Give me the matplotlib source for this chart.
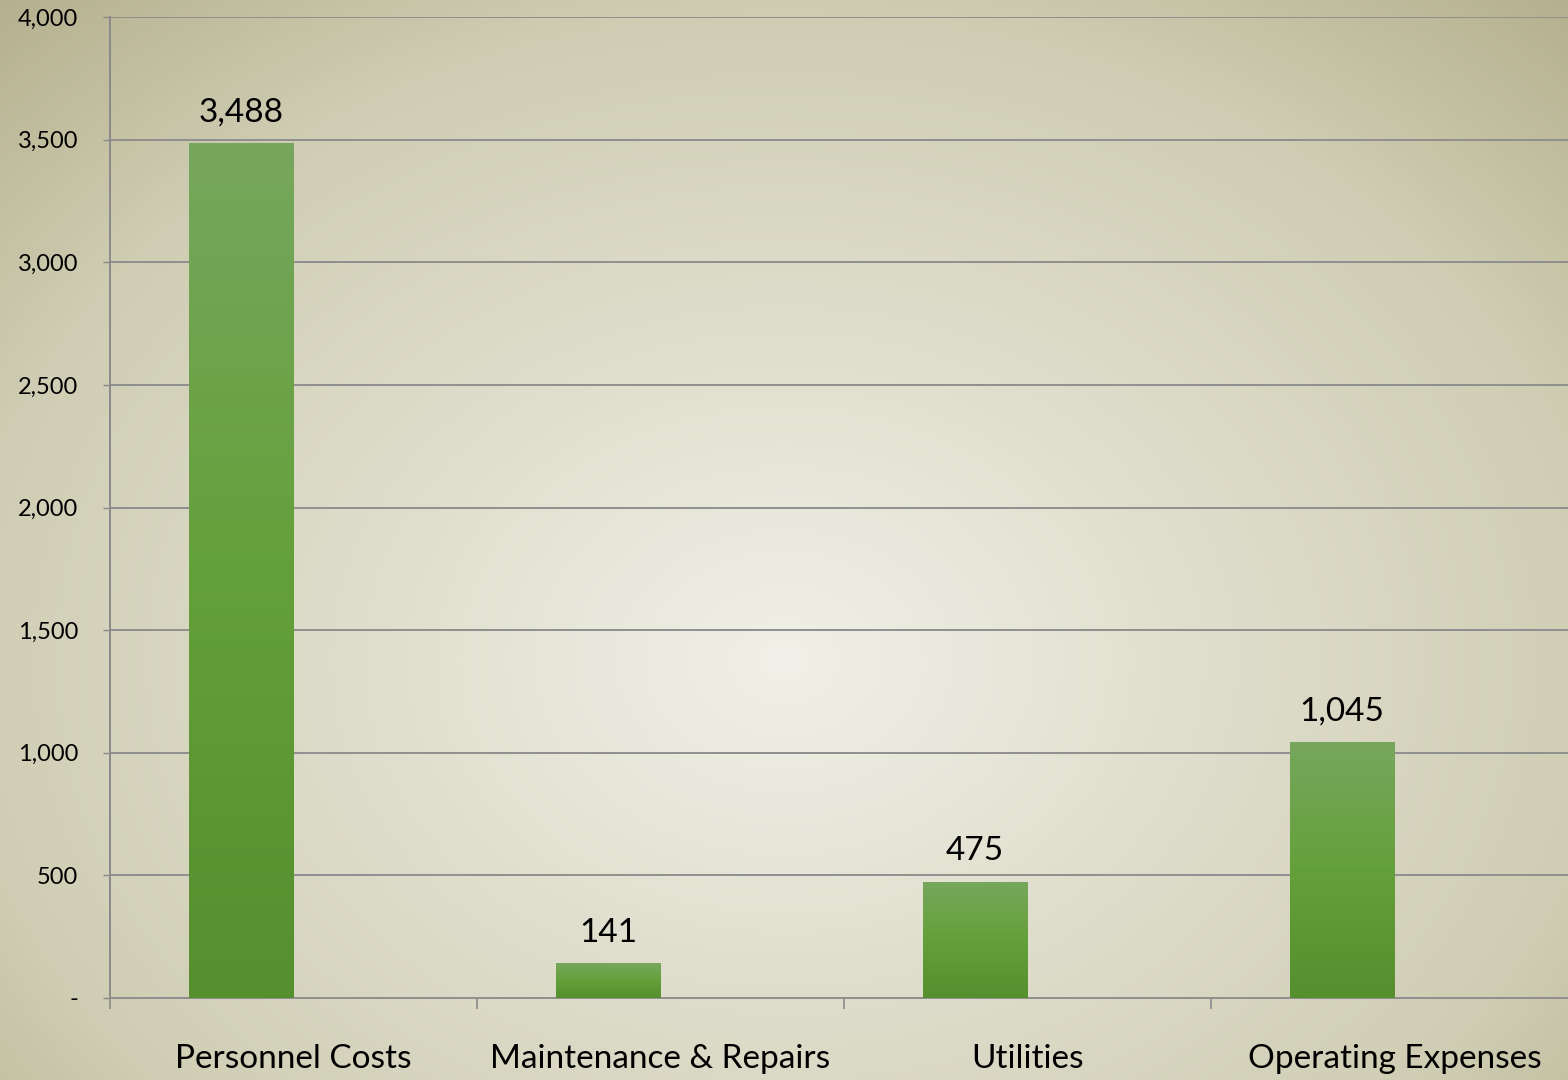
import numpy as np
import matplotlib
matplotlib.use("Agg")
import matplotlib.pyplot as plt
from matplotlib.colors import LinearSegmentedColormap
from matplotlib.ticker import FuncFormatter, FixedLocator

categories = ["Personnel Costs", "Maintenance & Repairs", "Utilities", "Operating Expenses"]
values = [3488, 141, 475, 1045]
yticks = [0, 500, 1000, 1500, 2000, 2500, 3000, 3500, 4000]

plt.rcParams['font.family'] = ['Lato', 'DejaVu Sans']

W, H = 1568, 1080
fig = plt.figure(figsize=(W / 100, H / 100), dpi=100)

# background radial gradient
bg = fig.add_axes([0, 0, 1, 1], zorder=-10)
yy, xx = np.mgrid[0:H, 0:W]
cx, cy = 784, 660
r = np.sqrt(((xx - cx) / (W * 0.75)) ** 2 + ((yy - cy) / (H * 0.85)) ** 2)
r = np.clip(r, 0, 1)
bg_cmap = LinearSegmentedColormap.from_list(
    "bg", [(0.0, "#f0f0e8"), (0.7, "#cfcdb3"), (1.0, "#b3af8c")])
bg.imshow(r, cmap=bg_cmap, aspect="auto", extent=(0, W, H, 0), vmin=0, vmax=1)
bg.axis("off")

left = 110 / W
bottom = 1 - 998 / H
top = 1 - 17 / H
ax = fig.add_axes([left, bottom, 1468 / W, top - bottom])
ax.patch.set_alpha(0)

x = np.arange(len(categories))
bw = 0.2857
bars = ax.bar(x - bw / 2, values, width=bw, color="#62993a", zorder=2)

bar_cmap = LinearSegmentedColormap.from_list("bar", ["#568f2e", "#64a03a", "#77a75d"])
grad = np.linspace(0, 1, 256).reshape(-1, 1)
for b in bars:
    x0 = b.get_x()
    h = b.get_height()
    im = ax.imshow(grad, cmap=bar_cmap, aspect="auto", origin="lower",
                   extent=(x0, x0 + b.get_width(), 0, h), zorder=3)
    im.set_clip_path(b)
    ax.annotate(f"{h:,.0f}", (x0 + b.get_width() / 2, h), xytext=(0, 11),
                textcoords="offset points", ha="center", va="bottom",
                fontsize=24, color="black", zorder=4)

ax.set_xlim(-0.5, len(categories) - 0.5)
ax.set_ylim(0, 4000)
ax.set_yticks(yticks)
ax.yaxis.set_major_formatter(FuncFormatter(lambda v, p: "-" if v == 0 else f"{v:,.0f}"))
ax.tick_params(axis="y", length=5, width=1, color="#8a8a8a", pad=18, labelsize=17)
ax.grid(axis="y", color="#8f8f8f", linewidth=1.4, zorder=0)
ax.set_axisbelow(True)

ax.set_xticks(x)
ax.set_xticklabels(categories, fontsize=24)
ax.tick_params(axis="x", which="major", length=0, pad=33)
ax.xaxis.set_minor_locator(FixedLocator(np.arange(-0.5, len(categories), 1.0)))
ax.tick_params(axis="x", which="minor", length=8, width=1.2, color="#8a8a8a")

for s in ["top", "right"]:
    ax.spines[s].set_visible(False)
ax.spines["left"].set_color("#8a8a8a")
ax.spines["left"].set_linewidth(1.4)
ax.spines["bottom"].set_color("#8f8f8f")
ax.spines["bottom"].set_linewidth(1.4)

fig.savefig("out.png", dpi=100)
